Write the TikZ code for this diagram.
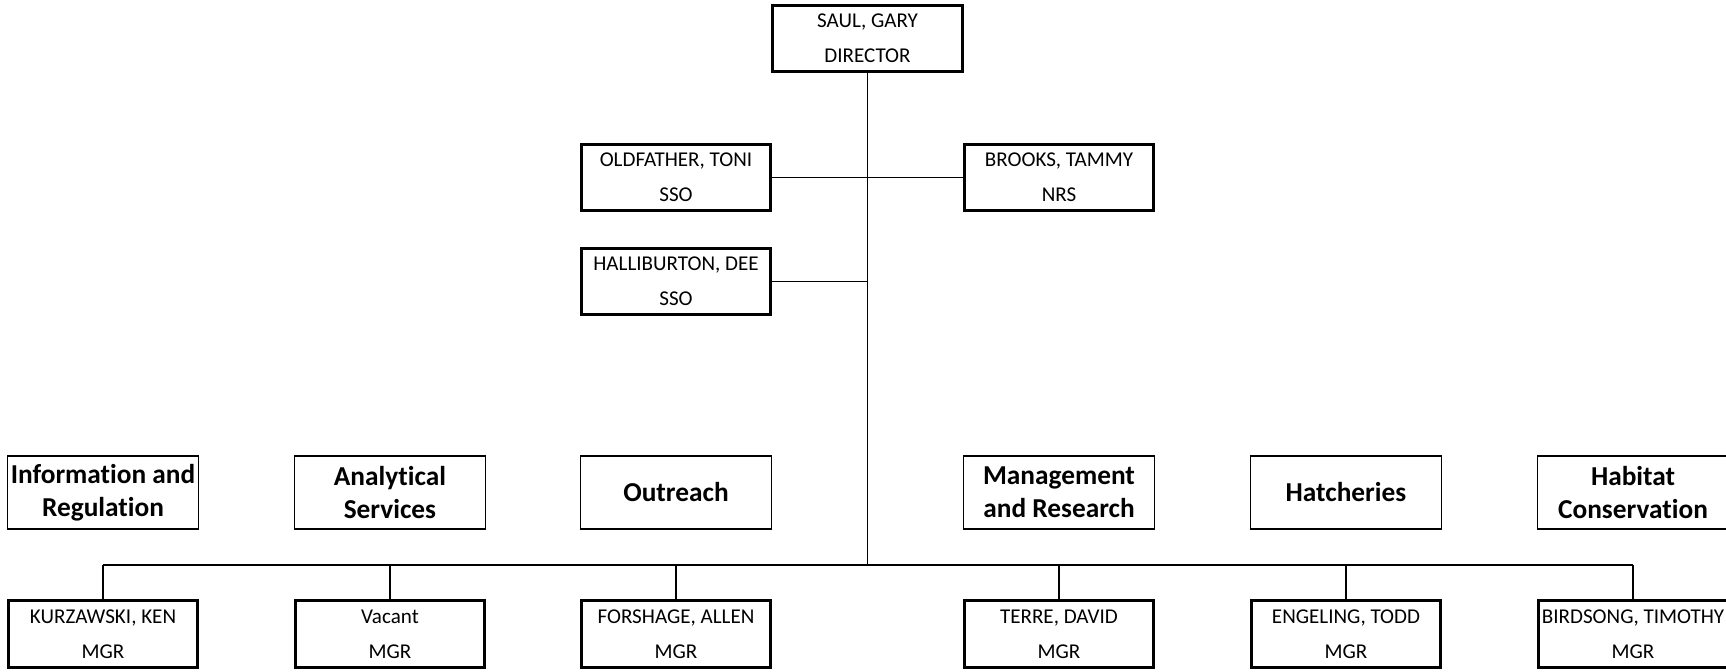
\documentclass[tikz,border=0pt]{standalone}
\usepackage{fontspec}
\setmainfont{Carlito}[Ligatures=NoCommon]
\begin{document}
\begin{tikzpicture}[x=0.75pt, y=-0.75pt,
  person/.style={draw, line width=2.2pt, minimum width=142pt, minimum height=50pt, inner sep=0pt, align=center, font=\fontsize{15.8}{26}\selectfont},
  unit/.style={draw, line width=1.2pt, minimum width=143pt, minimum height=55pt, inner sep=0pt, align=center, font=\fontsize{20.5}{25}\selectfont\bfseries},
  link/.style={line width=1.4pt}]
\useasboundingbox (0,0) rectangle (1726,671);
% director and staff
\node[person] (dir) at (867.5,38.5) {SAUL, GARY\\DIRECTOR};
\node[person] (sso1) at (676,177.5) {OLDFATHER, TONI\\SSO};
\node[person] (nrs) at (1059,177.5) {BROOKS, TAMMY\\NRS};
\node[person] (sso2) at (676,281.5) {HALLIBURTON, DEE\\SSO};
\coordinate (bus) at (867.5,565);
\draw[link] (dir) -- (bus);
\draw[link] (sso1) -- (nrs);
\draw[link] (sso2) -- (sso2 -| dir);
% divisions
\node[unit] (div1) at (103,492.5) {Information and\\Regulation};
\node[unit] (div2) at (390,492.5) {Analytical\\Services};
\node[unit] (div3) at (676,492.5) {Outreach};
\node[unit] (div4) at (1059,492.5) {Management\\and Research};
\node[unit] (div5) at (1346,492.5) {Hatcheries};
\node[unit] (div6) at (1633,492.5) {Habitat\\Conservation};
% managers
\node[person] (mgr1) at (103,634) {KURZAWSKI, KEN\\MGR};
\node[person] (mgr2) at (390,634) {Vacant\\MGR};
\node[person] (mgr3) at (676,634) {FORSHAGE, ALLEN\\MGR};
\node[person] (mgr4) at (1059,634) {TERRE, DAVID\\MGR};
\node[person] (mgr5) at (1346,634) {ENGELING, TODD\\MGR};
\node[person] (mgr6) at (1633,634) {BIRDSONG, TIMOTHY\\MGR};
\draw[link] (bus -| mgr1) -- (bus -| mgr6);
\foreach \i in {1,...,6}
  \draw[link] (bus -| mgr\i) -- (mgr\i.north);
\end{tikzpicture}
\end{document}
